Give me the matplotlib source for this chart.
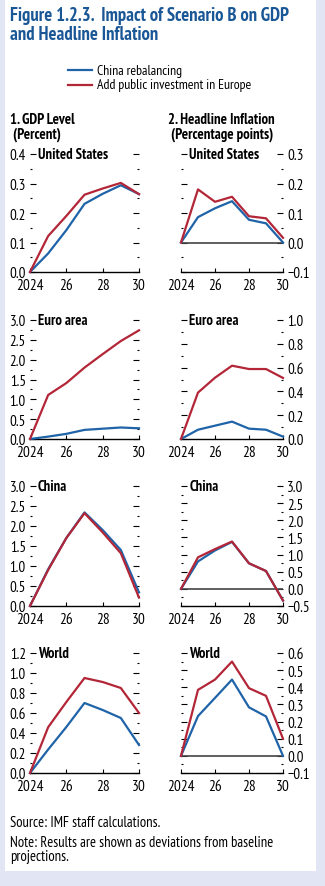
import matplotlib.pyplot as plt
from matplotlib.patches import Rectangle
from matplotlib.ticker import MultipleLocator, FuncFormatter

plt.rcParams['font.family'] = ['PT Sans Narrow', 'DejaVu Sans']

years = [2024, 2025, 2026, 2027, 2028, 2029, 2030]

# GDP level, percent
gdp_us_china = [0, 0.063, 0.142, 0.231, 0.265, 0.294, 0.264]
gdp_us_europe = [0, 0.122, 0.19, 0.262, 0.283, 0.302, 0.264]
gdp_ea_china = [0, 0.06, 0.13, 0.23, 0.26, 0.29, 0.27]
gdp_ea_europe = [0, 1.11, 1.41, 1.80, 2.14, 2.47, 2.74]
gdp_cn_china = [0, 0.92, 1.70, 2.34, 1.90, 1.40, 0.34]
gdp_cn_europe = [0, 0.90, 1.70, 2.32, 1.84, 1.32, 0.21]
gdp_w_china = [0, 0.235, 0.46, 0.70, 0.63, 0.55, 0.28]
gdp_w_europe = [0, 0.458, 0.71, 0.95, 0.91, 0.85, 0.60]

# Headline inflation, percentage points
inf_us_china = [0, 0.086, 0.116, 0.14, 0.077, 0.065, 0.0]
inf_us_europe = [0, 0.18, 0.138, 0.155, 0.089, 0.082, 0.016]
inf_ea_china = [0, 0.078, 0.112, 0.146, 0.087, 0.078, 0.02]
inf_ea_europe = [0, 0.39, 0.515, 0.616, 0.588, 0.588, 0.513]
inf_cn_china = [0, 0.80, 1.12, 1.37, 0.745, 0.52, -0.34]
inf_cn_europe = [0, 0.92, 1.16, 1.38, 0.745, 0.52, -0.34]
inf_w_china = [0, 0.232, 0.338, 0.445, 0.283, 0.23, 0.0]
inf_w_europe = [0, 0.385, 0.445, 0.55, 0.395, 0.35, 0.10]

regions = ['United States', 'Euro area', 'China', 'World']
xticks = [2024, 2026, 2028, 2030]
xlabels = ['2024', '26', '28', '30']

BLUE = '#1f63a8'
RED = '#b32638'
TITLE_BLUE = '#1a5796'

W, H = 325, 887
fig = plt.figure(figsize=(W / 100, H / 100), dpi=100)
fig.patch.set_facecolor('#e2e5f3')
fig.patches.append(Rectangle((5 / W, 1 - 872 / H), 311 / W, 872 / H,
                             transform=fig.transFigure, facecolor='white',
                             edgecolor='none', zorder=-10))


def px_axes(x0, y0, x1, y1):
    return fig.add_axes([x0 / W, 1 - y1 / H, (x1 - x0) / W, (y1 - y0) / H])


def fmt(v, pos):
    return f'{v:.1f}'.replace('-', '\u2212')


rows = [(155, 273), (321, 440), (487, 607), (654, 774)]

left_specs = [
    (gdp_us_china, gdp_us_europe, 0, 0.4, 0.1, 0.05),
    (gdp_ea_china, gdp_ea_europe, 0, 3.0, 0.5, 0.25),
    (gdp_cn_china, gdp_cn_europe, 0, 3.0, 0.5, 0.25),
    (gdp_w_china, gdp_w_europe, 0, 1.2, 0.2, 0.1),
]
right_specs = [
    (inf_us_china, inf_us_europe, -0.1, 0.3, 0.1, 0.05),
    (inf_ea_china, inf_ea_europe, 0, 1.0, 0.2, 0.1),
    (inf_cn_china, inf_cn_europe, -0.5, 3.0, 0.5, 0.25),
    (inf_w_china, inf_w_europe, -0.1, 0.6, 0.1, 0.05),
]


def style(ax, lo, hi, major, minor, labels_right):
    ax.set_xlim(2024, 2030)
    ax.set_ylim(lo, hi)
    ax.patch.set_alpha(0)
    for s in ['top', 'left', 'right']:
        ax.spines[s].set_visible(False)
    ax.spines['bottom'].set_linewidth(1.0)
    ax.set_xticks(xticks)
    ax.set_xticklabels(xlabels)
    ax.tick_params(axis='x', direction='in', length=3, width=0.8,
                   labelsize=11, pad=4)
    ax.yaxis.set_major_locator(MultipleLocator(major))
    ax.yaxis.set_minor_locator(MultipleLocator(minor))
    ax.yaxis.set_major_formatter(FuncFormatter(fmt))
    ax.tick_params(axis='y', which='major', left=True, right=True,
                   direction='in', length=4, width=0.8, labelsize=10.8,
                   labelleft=not labels_right, labelright=labels_right, pad=3)
    ax.tick_params(axis='y', which='minor', left=True, right=True,
                   direction='in', length=1.5, width=0.8)


for (y0, y1), region, (c, e, lo, hi, mj, mn) in zip(rows, regions, left_specs):
    ax = px_axes(30, y0, 139, y1)
    style(ax, lo, hi, mj, mn, False)
    ax.plot(years, c, color=BLUE, lw=1.6, zorder=3, clip_on=False)
    ax.plot(years, e, color=RED, lw=1.6, zorder=3, clip_on=False)
    ax.text(0.07, 1.0, region, transform=ax.transAxes, fontsize=10.5,
            fontweight='bold', va='center', ha='left')

for (y0, y1), region, (c, e, lo, hi, mj, mn) in zip(rows, regions, right_specs):
    ax = px_axes(181, y0, 283, y1)
    style(ax, lo, hi, mj, mn, True)
    if lo < 0:
        ax.axhline(0, color='#444444', lw=1.2, zorder=2)
    ax.plot(years, c, color=BLUE, lw=1.6, zorder=3, clip_on=False)
    ax.plot(years, e, color=RED, lw=1.6, zorder=3, clip_on=False)
    ax.text(0.08, 1.0, region, transform=ax.transAxes, fontsize=10.5,
            fontweight='bold', va='center', ha='left')

# title
fig.text(10 / W, 1 - 7 / H, 'Figure 1.2.3.  Impact of Scenario B on GDP\nand Headline Inflation',
         fontsize=13.4, fontweight='bold', color=TITLE_BLUE, va='top', ha='left',
         linespacing=1.08)

# legend
for yy, col, lab in [(71, BLUE, 'China rebalancing'),
                     (86, RED, 'Add public investment in Europe')]:
    fig.add_artist(plt.Line2D([68 / W, 92 / W], [1 - yy / H, 1 - yy / H],
                              color=col, lw=1.6))
    fig.text(97 / W, 1 - yy / H, lab, fontsize=9.9, va='center', ha='left')

# panel headers
fig.text(10 / W, 1 - 113 / H, '1. GDP Level\n (Percent)', fontsize=10.6,
         fontweight='bold', va='top', ha='left', linespacing=1.08)
fig.text(168 / W, 1 - 113 / H, '2. Headline Inflation\n (Percentage points)',
         fontsize=10.6, fontweight='bold', va='top', ha='left', linespacing=1.08)

# notes
fig.text(10 / W, 1 - 823 / H, 'Source: IMF staff calculations.', fontsize=10.5,
         va='center', ha='left')
fig.text(10 / W, 1 - 836 / H,
         'Note: Results are shown as deviations from baseline\nprojections.',
         fontsize=10.5, va='top', ha='left', linespacing=1.0)

fig.savefig('out.png', dpi=100, facecolor=fig.get_facecolor())
